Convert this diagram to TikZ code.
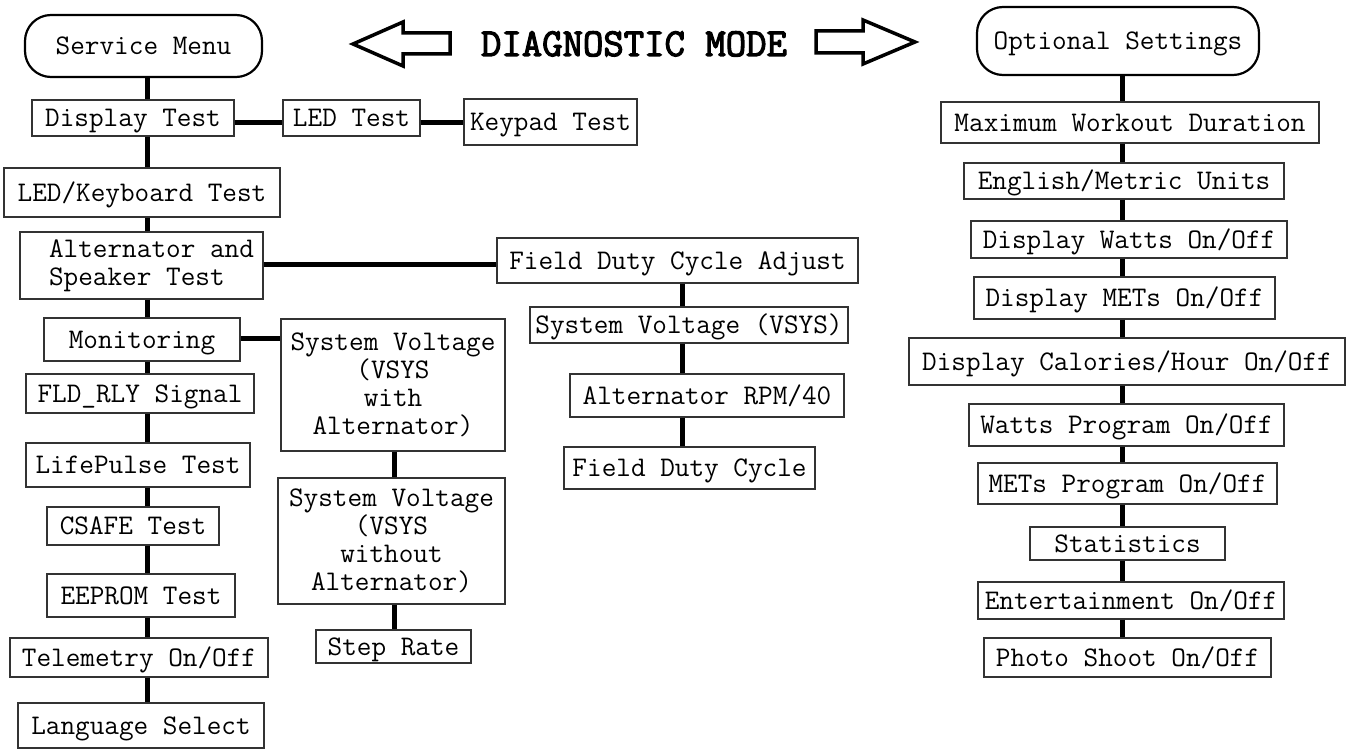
\documentclass[tikz,border=0pt]{standalone}
\usepackage{fontspec}
\newfontfamily\titlefont[FakeBold=3]{Latin Modern Mono}
\begin{document}
\begin{tikzpicture}[x=1pt,y=-1pt,
  txt/.style={font=\ttfamily\fontsize{28.4}{28}\selectfont},
  bx/.style={txt, draw=black!80, line width=1.2pt, inner sep=0pt, text height=20pt, text depth=2.6pt},
  mbx/.style={txt, draw=black!80, line width=1.2pt, inner sep=0pt, align=center},
  term/.style={txt, draw=black, line width=2.2pt, rounded corners=26pt, inner sep=0pt, text height=20pt, text depth=2.6pt},
  conn/.style={line width=5pt},
  bigarrow/.style={draw=black, line width=3.5pt, fill=white, line join=miter}
]
\fill[white] (0,0) rectangle (1352,749);
\useasboundingbox (0,0) rectangle (1352,749);

% title
\draw[bigarrow] (353,44) -- (403,22) -- (403,33) -- (450,33) -- (450,54) -- (403,54) -- (403,66) -- cycle;
\draw[bigarrow] (816,31) -- (863,31) -- (863,20) -- (915,42) -- (863,64) -- (863,53) -- (816,53) -- cycle;
\node[font=\titlefont\fontsize{39.6}{44}\selectfont, anchor=base, inner sep=0pt] (title) at (634,56) {DIAGNOSTIC MODE};

% left column
\node[term, minimum width=237pt, minimum height=62pt] (sm) at (143.5,46) {Service Menu};
\node[bx, minimum width=202pt, minimum height=36pt] (dt) at (133,118) {Display Test};
\node[bx, minimum width=137pt, minimum height=36pt] (led) at (351.5,118) {LED Test};
\node[bx, minimum width=173pt, minimum height=46pt] (kp) at (550.5,122) {Keypad Test};
\node[bx, minimum width=276pt, minimum height=49pt] (lkt) at (142,192.5) {LED/Keyboard Test};
\node[mbx, align=left, minimum width=243pt, minimum height=67pt] (alt) at (141.5,265.5) {\hspace*{20pt}Alternator and\\\hspace*{20pt}Speaker Test};
\node[bx, minimum width=196pt, minimum height=43pt] (mon) at (142,339.5) {Monitoring};
\node[bx, minimum width=228pt, minimum height=39pt] (fld) at (140,393.5) {FLD\_RLY Signal};
\node[bx, minimum width=224pt, minimum height=44pt] (lp) at (138,465) {LifePulse Test};
\node[bx, minimum width=172pt, minimum height=38pt] (cs) at (133,526) {CSAFE Test};
\node[bx, minimum width=188pt, minimum height=43pt] (ee) at (141,595.5) {EEPROM Test};
\node[bx, minimum width=258pt, minimum height=39pt] (tel) at (139,657.5) {Telemetry On/Off};
\node[bx, minimum width=246pt, minimum height=45pt] (lang) at (141,725.5) {Language Select};

% middle column
\node[mbx, minimum width=224pt, minimum height=132pt] (sv1) at (393,385) {System Voltage\\(VSYS\\with\\Alternator)};
\node[mbx, minimum width=227pt, minimum height=126pt] (sv2) at (391.5,541) {System Voltage\\(VSYS\\without\\Alternator)};
\node[bx, minimum width=155pt, minimum height=33pt] (sr) at (393.5,646.5) {Step Rate};

% field duty column
\node[bx, minimum width=361pt, minimum height=45pt] (fdca) at (677.5,260.5) {Field Duty Cycle Adjust};
\node[bx, minimum width=318pt, minimum height=36pt] (vsys) at (689,325) {System Voltage (VSYS)};
\node[bx, minimum width=274pt, minimum height=43pt] (rpm) at (707,395.5) {Alternator RPM/40};
\node[bx, minimum width=251pt, minimum height=42pt] (fdc) at (689.5,468) {Field Duty Cycle};

% right column
\node[term, minimum width=282pt, minimum height=68pt] (os) at (1118,41) {Optional Settings};
\node[bx, minimum width=378pt, minimum height=41pt] (mwd) at (1130,122.5) {Maximum Workout Duration};
\node[bx, minimum width=320pt, minimum height=36pt] (emu) at (1124,181) {English/Metric Units};
\node[bx, minimum width=316pt, minimum height=37pt] (dw) at (1129,239.5) {Display Watts On/Off};
\node[bx, minimum width=301pt, minimum height=42pt] (dm) at (1124.5,298) {Display METs On/Off};
\node[bx, minimum width=436pt, minimum height=47pt] (dc) at (1127,361.5) {Display Calories/Hour On/Off};
\node[bx, minimum width=315pt, minimum height=42pt] (wp) at (1126.5,425) {Watts Program On/Off};
\node[bx, minimum width=299pt, minimum height=41pt] (mp) at (1127.5,483.5) {METs Program On/Off};
\node[bx, minimum width=195pt, minimum height=33pt] (st) at (1127.5,543.5) {Statistics};
\node[bx, minimum width=306pt, minimum height=37pt] (ent) at (1131,600.5) {Entertainment On/Off};
\node[bx, minimum width=287pt, minimum height=39pt] (ps) at (1127.5,657.5) {Photo Shoot On/Off};

% trunk coordinates
\coordinate (tl) at (147,0);
\coordinate (tm) at (394,0);
\coordinate (tf) at (682,0);
\coordinate (tr) at (1122,0);
\coordinate (h1) at (0,123);
\coordinate (h2) at (0,264);
\coordinate (h3) at (0,338);

\foreach \a/\b in {sm/dt, dt/lkt, lkt/alt, alt/mon, mon/fld, fld/lp, lp/cs, cs/ee, ee/tel, tel/lang}
  \draw[conn] (\a.south -| tl) -- (\b.north -| tl);
\foreach \a/\b in {sv1/sv2, sv2/sr}
  \draw[conn] (\a.south -| tm) -- (\b.north -| tm);
\foreach \a/\b in {fdca/vsys, vsys/rpm, rpm/fdc}
  \draw[conn] (\a.south -| tf) -- (\b.north -| tf);
\foreach \a/\b in {os/mwd, mwd/emu, emu/dw, dw/dm, dm/dc, dc/wp, wp/mp, mp/st, st/ent, ent/ps}
  \draw[conn] (\a.south -| tr) -- (\b.north -| tr);

\draw[conn] (dt.east |- h1) -- (led.west |- h1);
\draw[conn] (led.east |- h1) -- (kp.west |- h1);
\draw[conn] (alt.east |- h2) -- (fdca.west |- h2);
\draw[conn] (mon.east |- h3) -- (sv1.west |- h3);
\end{tikzpicture}
\end{document}
